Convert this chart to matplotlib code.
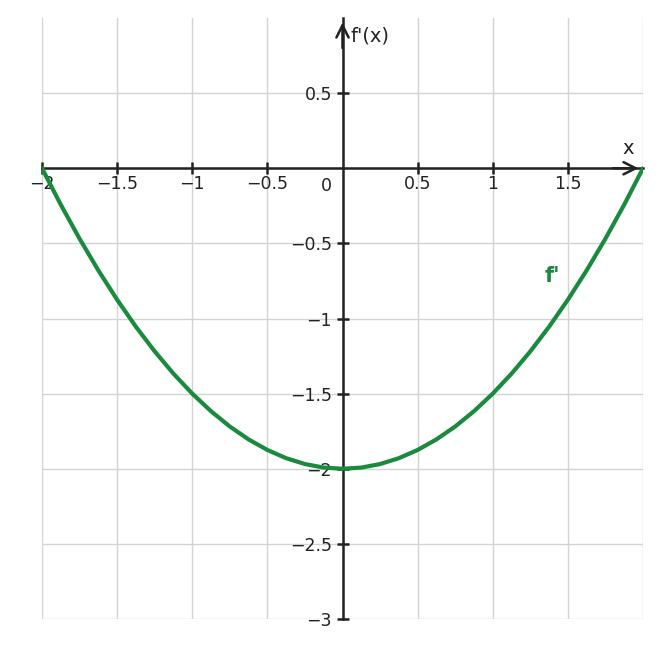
import matplotlib
matplotlib.use("Agg")
import matplotlib.pyplot as plt

# sample points
xs = [-2, -1.875, -1.75, -1.625, -1.5, -1.375, -1.25, -1.125, -1, -0.875, -0.75, -0.625, -0.5, -0.375, -0.25, -0.125, 0,
      0.125, 0.25, 0.375, 0.5, 0.625, 0.75, 0.875, 1, 1.125, 1.25, 1.375, 1.5, 1.625, 1.75, 1.875, 2]
ys = [0, -0.2422, -0.4688, -0.6797, -0.875, -1.0547, -1.2188, -1.3672, -1.5, -1.6172, -1.7188, -1.8047, -1.875, -1.9297, -1.9688, -1.9922, -2,
      -1.9922, -1.9688, -1.9297, -1.875, -1.8047, -1.7188, -1.6172, -1.5, -1.3672, -1.2188, -1.0547, -0.875, -0.6797, -0.4688, -0.2422, 0]
xticks = [-2, -1.5, -1, -0.5, 0.5, 1, 1.5]
xlabels = ["\u22122", "\u22121.5", "\u22121", "\u22120.5", "0.5", "1", "1.5"]
yticks = [-3, -2.5, -2, -1.5, -1, -0.5, 0.5]
ylabels = ["\u22123", "\u22122.5", "\u22122", "\u22121.5", "\u22121", "\u22120.5", "0.5"]

fig = plt.figure(figsize=(6.61, 6.48), dpi=100)
ax = fig.add_axes([42/661, 29/648, 601/661, 601/648])
ax.set_xlim(-2, 2)
ax.set_ylim(-3, 1)
for s in ["top", "right"]:
    ax.spines[s].set_visible(False)
for s in ["left", "bottom"]:
    ax.spines[s].set_position(("data", 0))
    ax.spines[s].set_color("#222222")
    ax.spines[s].set_linewidth(1.8)
ax.set_xticks(xticks)
ax.set_xticklabels(xlabels)
ax.set_yticks(yticks)
ax.set_yticklabels(ylabels)
ax.tick_params(direction="inout", length=8, width=1.8, labelsize=12.5, colors="#222222")
ax.tick_params(axis="x", pad=1)
for v in [-2, -1.5, -1, -0.5, 0, 0.5, 1, 1.5, 2]:
    ax.axvline(v, color="#d3d3d3", lw=1, zorder=0)
for v in [-3, -2.5, -2, -1.5, -1, -0.5, 0, 0.5]:
    ax.axhline(v, color="#d3d3d3", lw=1, zorder=0)
ax.plot(xs, ys, color="#1a8a3f", lw=3, zorder=3, solid_capstyle="round", solid_joinstyle="round")
ax.annotate("", xy=(1.97, 0), xytext=(1.8, 0), annotation_clip=False,
            arrowprops=dict(arrowstyle="->", color="#222222", lw=1.8, mutation_scale=22, shrinkA=0, shrinkB=0))
ax.annotate("", xy=(0, 0.97), xytext=(0, 0.8), annotation_clip=False,
            arrowprops=dict(arrowstyle="->", color="#222222", lw=1.8, mutation_scale=22, shrinkA=0, shrinkB=0))
ax.text(-0.11, -0.12, "0", fontsize=12.5, ha="center", va="center", color="#222222")
ax.text(1.9, 0.13, "x", fontsize=14, ha="center", va="center", color="#222222")
ax.text(0.05, 0.88, "f'(x)", fontsize=14, ha="left", va="center", color="#222222")
ax.text(1.4, -0.72, "f'", fontsize=15, fontweight="bold", color="#1a8a3f", ha="center", va="center")
fig.savefig("out.png", dpi=100)
